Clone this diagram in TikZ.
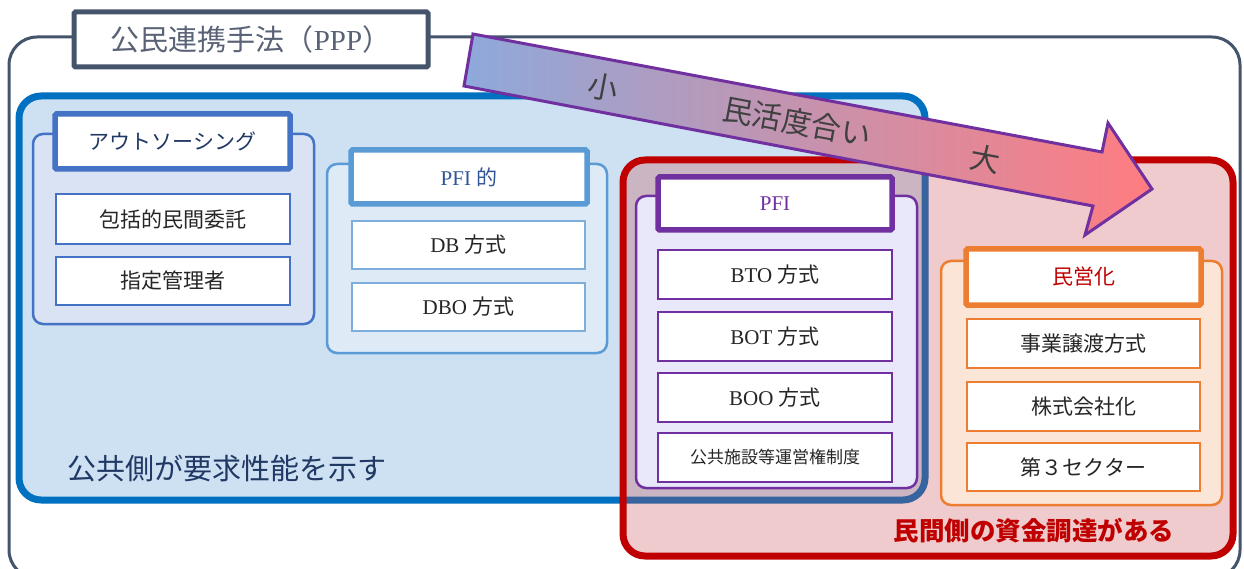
\documentclass[tikz,border=0pt]{standalone}
\usepackage{fontspec}
\setmainfont{Liberation Serif}
\newfontfamily\jp{Noto Sans CJK JP}
\newcommand\J[1]{{\jp #1}}
\definecolor{frameC}{HTML}{44546A}
\definecolor{titleT}{HTML}{5A6376}
\definecolor{blueB}{HTML}{0070C0}
\definecolor{blueF}{HTML}{CDE1F2}
\definecolor{redB}{HTML}{C00000}
\definecolor{redF}{RGB}{201,69,76}
\definecolor{osB}{HTML}{4472C4}
\definecolor{osF}{HTML}{DAE3F3}
\definecolor{osT}{HTML}{203864}
\definecolor{pfB}{HTML}{5B9BD5}
\definecolor{pfF}{HTML}{DEEBF7}
\definecolor{pfT}{HTML}{2F5597}
\definecolor{puB}{HTML}{7030A0}
\definecolor{puF}{HTML}{E8E8FA}
\definecolor{orB}{HTML}{ED7D31}
\definecolor{orF}{HTML}{FBE5D6}
\definecolor{txt}{HTML}{262626}
\definecolor{arrL}{HTML}{8EA9DB}
\definecolor{arrR}{HTML}{FF7C80}
\definecolor{arrT}{HTML}{404040}
\begin{document}
\begin{tikzpicture}[x=1pt,y=-1pt,
  sz/.style 2 args={minimum width=#1pt, minimum height=#2pt},
  box/.style={draw, rectangle, inner sep=0pt, outer sep=0pt},
  container/.style={box, line width=2.5pt, rounded corners=10pt},
  header/.style={box, fill=white, line width=5.5pt, rounded corners=1.5pt, font=\fontsize{21}{21}\selectfont},
  item/.style={box, fill=white, line width=1.2pt, text=txt, font=\fontsize{21}{21}\selectfont},
  arrtext/.style={rotate=-10.7, text=arrT, inner sep=0pt, font=\jp\fontsize{30}{30}\selectfont}
]
\useasboundingbox (0,0) rectangle (1244,569);
\clip (0,0) rectangle (1244,569);
\fill[white] (0,0) rectangle (1244,569);
% outer frame and title
\node[box, draw=frameC, line width=3pt, rounded corners=28pt, sz={1231}{541}] (frame) at (624.5,307.5) {};
\node[box, draw=frameC, fill=white, line width=5pt, rounded corners=1.5pt, sz={354}{55}, text=titleT, font=\fontsize{29}{29}\selectfont] (title) at (251,39.5) {\J{公民連携手法（}PPP\J{）}};
% big regions
\node[box, draw=blueB, fill=blueF, line width=7pt, rounded corners=22pt, sz={906}{404}] (pub) at (472,298) {};
\node[box, draw=redB, fill=redF, fill opacity=0.28, line width=7pt, rounded corners=22pt, sz={610}{396}] (priv) at (928,358) {};
% outsourcing group
\node[container, draw=osB, fill=osF, sz={281}{190}] (osC) at (173.5,229) {};
\node[header, draw=osB, text=osT, sz={235}{55}] (osH) at (172.5,141.5) {\J{アウトソーシング}};
\node[item, draw=osB, sz={234}{50}] (os1) at (173,219) {\J{包括的民間委託}};
\node[item, draw=osB, sz={234}{48}] (os2) at (173,281) {\J{指定管理者}};
% PFI-like group
\node[container, draw=pfB, fill=pfF, sz={280}{189}] (pfC) at (467,258.5) {};
\node[header, draw=pfB, text=pfT, sz={236}{54}] (pfH) at (469,177) {PFI \J{的}};
\node[item, draw=pfB!80, sz={233}{48}] (pf1) at (468.5,245) {DB \J{方式}};
\node[item, draw=pfB!80, sz={233}{48}] (pf2) at (468.5,307) {DBO \J{方式}};
% PFI group
\node[container, draw=puB, fill=puF, sz={281}{292}] (puC) at (776.5,342) {};
\node[header, draw=puB, text=puB, sz={234}{53}] (puH) at (775,203.5) {PFI};
\node[item, draw=puB, sz={234}{49}] (pu1) at (775,274.5) {BTO \J{方式}};
\node[item, draw=puB, sz={234}{49}] (pu2) at (775,336.5) {BOT \J{方式}};
\node[item, draw=puB, sz={234}{49}] (pu3) at (775,397.5) {BOO \J{方式}};
\node[item, draw=puB, sz={234}{49}, font=\fontsize{17}{17}\selectfont] (pu4) at (775,457.5) {\J{公共施設等運営権制度}};
% privatization group
\node[container, draw=orB, fill=orF, sz={281}{244}] (orC) at (1081.5,383) {};
\node[header, draw=orB, text=redB, sz={235}{56}] (orH) at (1083.5,277) {\J{民営化}};
\node[item, draw=orB, sz={233}{49}] (or1) at (1083.5,343.5) {\J{事業譲渡方式}};
\node[item, draw=orB, sz={233}{49}] (or2) at (1083.5,406.5) {\J{株式会社化}};
\node[item, draw=orB, sz={233}{48}] (or3) at (1083.5,467) {\J{第３セクター}};
% region labels
\node[anchor=west, inner sep=0pt, text=osT, font=\jp\fontsize{29}{29}\selectfont] (publbl) at (67,468) {公共側が要求性能を示す};
\node[inner sep=0pt, text=redB, font=\jp\bfseries\fontsize{25.5}{25.5}\selectfont] (privlbl) at (1034,531) {民間側の資金調達がある};
% arrow
\draw[draw=puB, line width=3pt, line join=miter, left color=arrL, right color=arrR]
  (473,34) -- (1102,152) -- (1108,123) -- (1152,189) -- (1085,235) -- (1093,206) -- (464,86) -- cycle;
\node[arrtext] (small) at (603,87) {小};
\node[arrtext] (degree) at (797,122) {民活度合い};
\node[arrtext] (large) at (985,159) {大};
\end{tikzpicture}
\end{document}
